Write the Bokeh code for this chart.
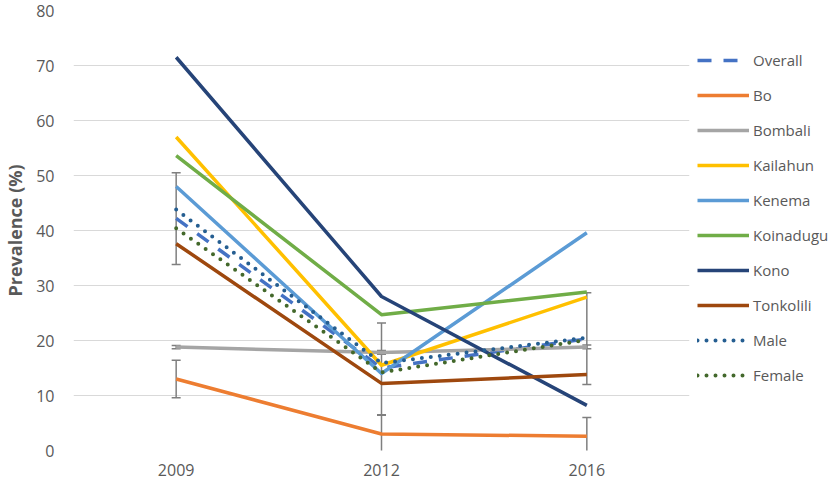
from bokeh.plotting import figure
from bokeh.models import (ColumnDataSource, FactorRange, Range1d, FixedTicker,
                          Whisker, TeeHead, Legend, LegendItem)
from bokeh.embed import file_html
from bokeh.resources import INLINE

years = ["2009", "2012", "2016"]

overall = [42.2, 15.0, 20.3]
bo = [13.0, 3.0, 2.6]
bombali = [18.8, 17.8, 18.8]
kailahun = [57.0, 15.5, 27.9]
kenema = [48.0, 14.0, 39.6]
koinadugu = [53.6, 24.7, 28.8]
kono = [71.5, 28.0, 8.2]
tonkolili = [37.6, 12.2, 13.8]
male = [43.8, 15.9, 20.5]
female = [40.4, 14.2, 20.1]

overall_lo = [33.8, 6.4, 12.0]
overall_hi = [50.5, 23.2, 28.7]
bo_lo = [9.6, -0.5, -0.7]
bo_hi = [16.4, 6.5, 6.0]
bombali_lo = [18.5, 17.5, 18.5]
bombali_hi = [19.1, 18.2, 19.2]

series = [
    ("Overall", overall, "#4472C4", "14 12", "butt", 3.5),
    ("Bo", bo, "#ED7D31", "solid", "butt", 3.5),
    ("Bombali", bombali, "#A5A5A5", "solid", "butt", 3.5),
    ("Kailahun", kailahun, "#FFC000", "solid", "butt", 3.5),
    ("Kenema", kenema, "#5B9BD5", "solid", "butt", 3.5),
    ("Koinadugu", koinadugu, "#70AD47", "solid", "butt", 3.5),
    ("Kono", kono, "#264478", "solid", "butt", 3.5),
    ("Tonkolili", tonkolili, "#9E480E", "solid", "butt", 3.5),
    ("Male", male, "#255E91", "0 9", "round", 4),
    ("Female", female, "#43682B", "0 9", "round", 4),
]

GREY = "#595959"

p = figure(frame_width=616, frame_height=440,
           x_range=FactorRange(*years, range_padding=0),
           y_range=Range1d(0, 80), output_backend="svg", toolbar_location=None,
           min_border_left=69, min_border_top=10, min_border_right=136,
           min_border_bottom=34)
p.outline_line_color = None
p.background_fill_color = "white"
p.border_fill_color = "white"

p.xgrid.grid_line_color = None
p.ygrid.grid_line_color = "#D9D9D9"
p.ygrid.grid_line_width = 1

p.yaxis.ticker = FixedTicker(ticks=[0, 10, 20, 30, 40, 50, 60, 70, 80])
for ax in (p.xaxis[0], p.yaxis[0]):
    ax.axis_line_color = None
    ax.major_tick_line_color = None
    ax.minor_tick_line_color = None
    ax.major_label_text_font = "Open Sans"
    ax.major_label_text_font_size = "16px"
    ax.major_label_text_color = GREY
    ax.major_tick_out = 0
    ax.major_tick_in = 0
p.yaxis.major_label_standoff = 19
p.xaxis.major_label_standoff = 13
p.yaxis.axis_label = "Prevalence (%)"
p.yaxis.axis_label_text_font = "Open Sans"
p.yaxis.axis_label_text_font_size = "18px"
p.yaxis.axis_label_text_font_style = "bold"
p.yaxis.axis_label_text_color = GREY
p.yaxis.axis_label_standoff = 6

items = []
for name, vals, color, dash, cap, lw in series:
    src = ColumnDataSource(dict(x=years, y=vals))
    r = p.line("x", "y", source=src, line_color=color, line_width=lw,
               line_dash=dash, line_cap=cap, line_join="round")
    items.append(LegendItem(label=name, renderers=[r]))

for lo, hi in ((overall_lo, overall_hi), (bombali_lo, bombali_hi), (bo_lo, bo_hi)):
    src = ColumnDataSource(dict(x=years, lo=lo, hi=hi))
    w = Whisker(base="x", lower="lo", upper="hi", source=src,
                line_color="#7F7F7F", line_width=1.5,
                upper_head=TeeHead(size=9, line_color="#7F7F7F", line_width=1.5),
                lower_head=TeeHead(size=9, line_color="#7F7F7F", line_width=1.5))
    p.add_layout(w)

legend = Legend(items=items, location=(8, 65))
legend.border_line_color = None
legend.background_fill_alpha = 0
legend.padding = 0
legend.margin = 0
legend.spacing = 15
legend.label_height = 20
legend.glyph_height = 20
legend.glyph_width = 52
legend.label_standoff = 4
legend.label_text_font = "Open Sans"
legend.label_text_font_size = "15px"
legend.label_text_color = GREY
p.add_layout(legend, "right")

open("out.html", "w").write(file_html(p, INLINE))
